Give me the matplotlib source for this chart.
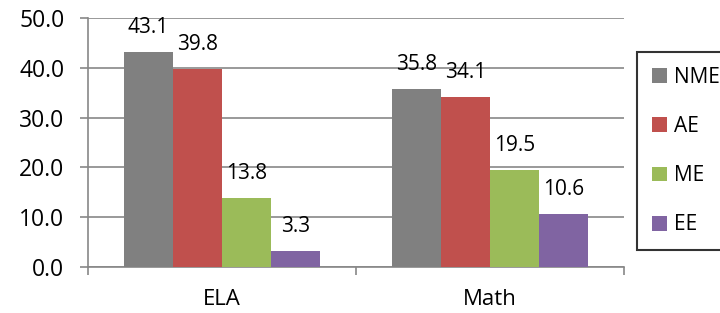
import numpy as np
import matplotlib.pyplot as plt

categories = ["ELA", "Math"]
series = ["NME", "AE", "ME", "EE"]
nme = [43.1, 35.8]
ae = [39.8, 34.1]
me = [13.8, 19.5]
ee = [3.3, 10.6]
yticks = [0, 10, 20, 30, 40, 50]

colors = ["#808080", "#C0504D", "#9BBB59", "#8064A2"]
grid_col = "#878787"
fs = 15.5

plt.rcParams["font.family"] = ["Open Sans", "DejaVu Sans"]
plt.rcParams["font.size"] = fs

W, H = 720, 313
fig = plt.figure(figsize=(W / 100, H / 100), dpi=100)
ax = fig.add_axes([88 / W, 1 - 267 / H, (624 - 88) / W, (267 - 18) / H])

x = np.arange(len(categories))
width = 0.183
handles = []
for i, (name, vals) in enumerate(zip(series, [nme, ae, me, ee])):
    pos = x + (i - 1.5) * width
    b = ax.bar(pos, vals, width, color=colors[i], label=name, zorder=3)
    handles.append(b)
    for p, v in zip(pos, vals):
        ax.annotate("%.1f" % v, (p, v), xytext=(0, 14), textcoords="offset pixels",
                    ha="center", va="bottom", fontsize=15, color="black")

ax.set_xlim(-0.5, 1.5)
ax.set_ylim(0, 50)
ax.set_yticks(yticks)
ax.set_yticklabels(["%.1f" % t for t in yticks], fontsize=16.5)
ax.set_xticks([-0.5, 0.5, 1.5], minor=False)
ax.set_xticklabels(["", "", ""])
ax.set_xticks(x, minor=True)
ax.set_xticklabels(categories, minor=True, fontsize=16)
ax.tick_params(axis="x", which="minor", length=0, pad=16)
ax.tick_params(axis="x", which="major", length=6, color=grid_col, width=1.2)
ax.tick_params(axis="y", length=6, color=grid_col, width=1.2, pad=11)
ax.yaxis.grid(True, color=grid_col, linewidth=1.2, zorder=0)
for s in ["top", "right"]:
    ax.spines[s].set_visible(False)
for s in ["left", "bottom"]:
    ax.spines[s].set_color(grid_col)
    ax.spines[s].set_linewidth(1.2)

leg = fig.legend(handles=handles, loc="upper left", bbox_to_anchor=(637 / W, 1 - 52 / H),
                 frameon=True, fancybox=False, edgecolor="black", handlelength=0.72,
                 handleheight=0.72, handletextpad=0.35, labelspacing=1.35, borderpad=0.72,
                 borderaxespad=0, fontsize=15)
leg.get_frame().set_linewidth(1.5)

fig.savefig("out.png", dpi=100)
